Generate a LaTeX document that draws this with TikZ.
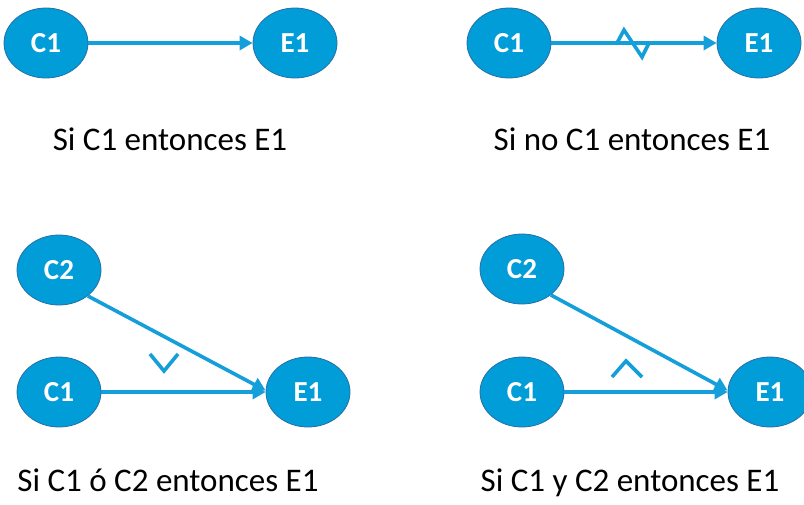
\documentclass[tikz,border=0pt]{standalone}
\usepackage{fontspec}
\setmainfont{Carlito}
\usetikzlibrary{shapes.geometric,arrows.meta}
\definecolor{nodefill}{RGB}{0,157,217}
\definecolor{nodeline}{RGB}{40,110,165}
\definecolor{arrowc}{RGB}{20,158,218}
\tikzset{
  bub/.style={ellipse, draw=nodeline, line width=0.8pt, fill=nodefill, minimum width=84pt, minimum height=70pt, inner sep=0pt, text=white, font=\fontsize{29}{30}\selectfont\bfseries},
  conn/.style={draw=arrowc, line width=3.6pt, -{Triangle[length=13pt,width=14pt]}},
  sym/.style={draw=arrowc, line width=3.6pt},
  caption/.style={font=\fontsize{33}{36}\selectfont, text=black, inner sep=0pt, anchor=base}
}
\begin{document}
\begin{tikzpicture}[x=1pt,y=-1pt]
\useasboundingbox (0,0) rectangle (804,504);
\clip (0,0) rectangle (804,504);
% top-left
\node[bub] (a1) at (46,43) {C1};
\node[bub] (a2) at (295,43) {E1};
\draw[conn] (a1) -- (a2);
\node[caption] (ta) at (170,150) {Si C1 entonces E1};
% top-right
\node[bub] (b1) at (509,43) {C1};
\node[bub] (b2) at (759,43) {E1};
\draw[conn] (b1) -- (b2);
\coordinate (z1) at (617,43);
\coordinate (z2) at (624,30);
\coordinate (z3) at (642,57);
\coordinate (z4) at (649,43);
\draw[sym, line join=miter] (z1) -- (z2) -- (z3) -- (z4);
\node[caption] (tb) at (632,150) {Si no C1 entonces E1};
% bottom-left
\node[bub] (c2) at (59,270) {C2};
\node[bub] (c1) at (59,392) {C1};
\node[bub] (c3) at (308,392) {E1};
\draw[conn] (c1) -- (c3);
\draw[conn] (c2.-42) -- (c3.178);
\coordinate (v1) at (150,354);
\coordinate (v2) at (164,371);
\coordinate (v3) at (178,354);
\draw[sym] (v1) -- (v2) -- (v3);
\node[caption] (tc) at (168,491) {Si C1 ó C2 entonces E1};
% bottom-right
\node[bub] (d2) at (522,269) {C2};
\node[bub] (d1) at (522,392) {C1};
\node[bub] (d3) at (770,392) {E1};
\draw[conn] (d1) -- (d3);
\draw[conn] (d2.-42) -- (d3.178);
\coordinate (w1) at (612,377);
\coordinate (w2) at (626,361);
\coordinate (w3) at (642,377);
\draw[sym] (w1) -- (w2) -- (w3);
\node[caption] (td) at (630,491) {Si C1 y C2 entonces E1};
\end{tikzpicture}
\end{document}
